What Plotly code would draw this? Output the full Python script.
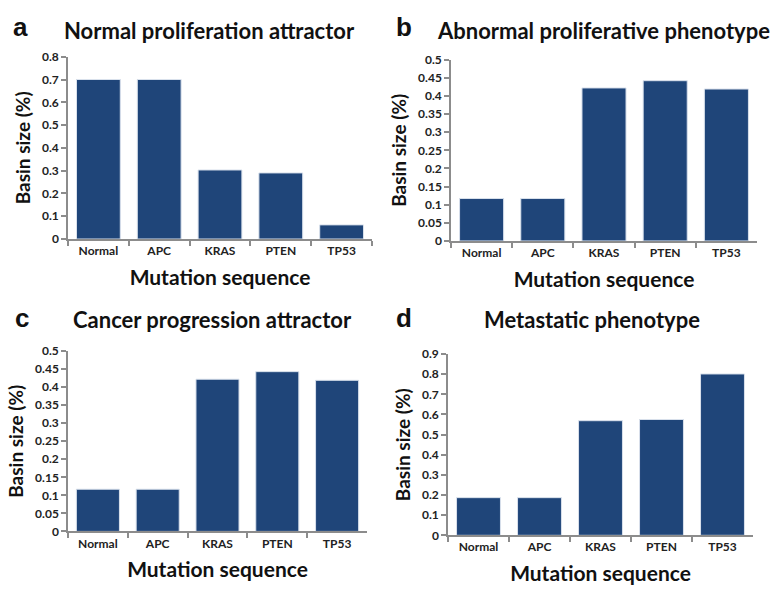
import plotly.graph_objects as go

categories = ["Normal", "APC", "KRAS", "PTEN", "TP53"]
normal_prolif = [0.70, 0.70, 0.303, 0.290, 0.062]
abnormal_prolif = [0.117, 0.117, 0.422, 0.442, 0.419]
cancer_prog = [0.117, 0.117, 0.422, 0.443, 0.419]
metastatic = [0.187, 0.187, 0.569, 0.575, 0.801]

panel_titles = ["Normal proliferation attractor", "Abnormal proliferative phenotype",
                "Cancer progression attractor", "Metastatic phenotype"]
panel_letters = ["a", "b", "c", "d"]
y_ranges = [(0, 0.8, 0.1), (0, 0.5, 0.05), (0, 0.5, 0.05), (0, 0.9, 0.1)]
series = [normal_prolif, abnormal_prolif, cancer_prog, metastatic]

W, H = 771, 593
# pixel boxes: x0, x1, ytop, ybottom
boxes = [(68, 372, 50, 237), (451, 757, 53, 239), (68, 367, 352, 537), (448, 753, 355, 541)]
title_pos = [(210, 23), (603, 23), (212, 320), (592, 320)]
letter_pos = [(20, 20), (404, 20), (22, 318), (404, 318)]

FONT = "Lato"
BAR = "#1f4579"
AX = "#8c8c8c"

fig = go.Figure()
for i in range(4):
    ax = "" if i == 0 else str(i + 1)
    fig.add_trace(go.Bar(x=categories, y=series[i], xaxis="x" + ax, yaxis="y" + ax,
                         marker=dict(color=BAR, line=dict(color="#d9e1ec", width=1)),
                         showlegend=False))
    x0, x1, yt, yb = boxes[i]
    lo, hi, dt = y_ranges[i]
    fig.layout["xaxis" + ax] = dict(
        domain=[x0 / W, x1 / W], anchor="y" + ax, type="category",
        showline=True, linecolor=AX, linewidth=1.5, ticks="outside", tickson="boundaries",
        ticklen=5, tickcolor=AX, tickwidth=1.5,
        tickfont=dict(family=FONT, size=12, color="#222", weight="bold"),
        title=dict(text="Mutation sequence", font=dict(family=FONT, size=21, color="#111", weight="bold"), standoff=13),
        showgrid=False, zeroline=False, fixedrange=True)
    fig.layout["yaxis" + ax] = dict(
        domain=[1 - yb / H, 1 - yt / H], anchor="x" + ax, range=[lo, hi], dtick=dt, tick0=0,
        showline=True, linecolor=AX, linewidth=1.5, ticks="outside", ticklen=5,
        tickcolor=AX, tickwidth=1.5,
        tickfont=dict(family=FONT, size=12, color="#222", weight="bold"),
        title=dict(text="Basin size (%)", font=dict(family=FONT, size=19, color="#111", weight="bold"), standoff=6),
        showgrid=False, zeroline=False, fixedrange=True)

annotations = []
for i in range(4):
    tx, ty = title_pos[i]
    annotations.append(dict(text=panel_titles[i], x=tx / W, y=1 - ty / H,
                            xref="paper", yref="paper", showarrow=False, xanchor="center", yanchor="middle",
                            font=dict(family=FONT, size=22, color="#111", weight="bold")))
    lx, ly = letter_pos[i]
    annotations.append(dict(text=panel_letters[i], x=lx / W, y=1 - ly / H,
                            xref="paper", yref="paper", showarrow=False, xanchor="center", yanchor="middle",
                            font=dict(family="Liberation Sans", size=26, color="#111", weight="bold")))

fig.update_layout(width=W, height=H, margin=dict(l=0, r=0, t=0, b=0),
                  paper_bgcolor="white", plot_bgcolor="white", bargap=0.28,
                  annotations=annotations)
fig.write_html("out.html")
